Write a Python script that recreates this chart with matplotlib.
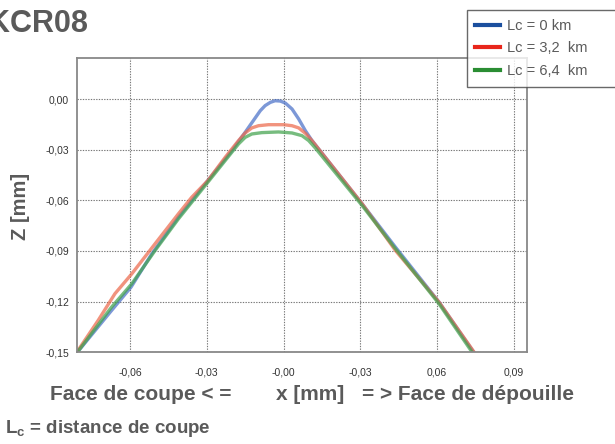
import matplotlib
matplotlib.use("Agg")
import matplotlib.pyplot as plt
from matplotlib.lines import Line2D

plt.rcParams['font.family'] = ['Liberation Sans', 'DejaVu Sans']
plt.rcParams['mathtext.fontset'] = 'custom'
plt.rcParams['mathtext.rm'] = 'Liberation Sans:bold'
plt.rcParams['mathtext.bf'] = 'Liberation Sans:bold'

title = "KCR08"
series_labels = ["Lc = 0 km", "Lc = 3,2  km", "Lc = 6,4  km"]

x_blue = [-0.0806, -0.0672, -0.0596, -0.0515, -0.0411, -0.0296, -0.0202, -0.0150, -0.0091,
          -0.0072, -0.0052, -0.0033, -0.0013, 0.0007, 0.0033, 0.0059, 0.0085, 0.0111,
          0.0307, 0.0437, 0.0607, 0.0743]
z_blue = [-0.1500, -0.1252, -0.1114, -0.0917, -0.0700, -0.0483, -0.0306, -0.0197, -0.0069,
          -0.0039, -0.0020, -0.0010, -0.0012, -0.0024, -0.0059, -0.0118, -0.0187, -0.0246,
          -0.0621, -0.0877, -0.1202, -0.1500]

x_red = [-0.0806, -0.0724, -0.0659, -0.0593, -0.0502, -0.0411, -0.0359, -0.0296, -0.0228,
         -0.0176, -0.0150, -0.0124, -0.0098, -0.0059, 0.0000, 0.0033, 0.0059, 0.0085, 0.0111,
         0.0307, 0.0437, 0.0607, 0.0745]
z_red = [-0.1495, -0.1310, -0.1153, -0.1035, -0.0857, -0.0680, -0.0582, -0.0483, -0.0345,
         -0.0246, -0.0201, -0.0171, -0.0158, -0.0152, -0.0152, -0.0158, -0.0171, -0.0203, -0.0246,
         -0.0620, -0.0897, -0.1202, -0.1500]

x_green = [-0.0806, -0.0672, -0.0593, -0.0502, -0.0411, -0.0296, -0.0202, -0.0176, -0.0150,
           -0.0124, -0.0085, -0.0020, 0.0033, 0.0072, 0.0098, 0.0124, 0.0307, 0.0437, 0.0607, 0.0737]
z_green = [-0.1500, -0.1232, -0.1094, -0.0897, -0.0710, -0.0493, -0.0315, -0.0266, -0.0227,
           -0.0207, -0.0199, -0.0195, -0.0201, -0.0217, -0.0246, -0.0290, -0.0631, -0.0887, -0.1212, -0.1500]

x_ticks = [-0.06, -0.03, 0.0, 0.03, 0.06, 0.09]
x_ticklabels = ["-0,06", "-0,03", "-0,00", "-0,03", "0,06", "0,09"]
y_ticks = [0.0, -0.03, -0.06, -0.09, -0.12, -0.15]
y_ticklabels = ["0,00", "-0,03", "-0,06", "-0,09", "-0,12", "-0,15"]

W, H = 615, 444
fig = plt.figure(figsize=(W / 100, H / 100), dpi=100)
ax = fig.add_axes([77.3 / W, 1 - 352.3 / H, (526.7 - 77.3) / W, (352.3 - 58) / H])

line_colors = ["#4a70c8", "#ec6a4c", "#43a34e"]
legend_colors = ["#1b4f9e", "#e8261b", "#2a8d33"]
for xs, zs, c in [(x_blue, z_blue, line_colors[0]),
                  (x_red, z_red, line_colors[1]),
                  (x_green, z_green, line_colors[2])]:
    ax.plot(xs, zs, color=c, lw=2.4, alpha=0.72, solid_capstyle='round',
            solid_joinstyle='round')

ax.set_xlim(-0.0806, 0.0950)
ax.set_ylim(-0.15, 0.0243)
ax.set_xticks(x_ticks)
ax.set_xticklabels(x_ticklabels)
ax.set_yticks(y_ticks)
ax.set_yticklabels(y_ticklabels)
ax.tick_params(length=0, labelsize=7.5, colors="#333333")
ax.tick_params(axis='x', pad=11)
ax.tick_params(axis='y', pad=6)
ax.grid(True, color="#777777", linestyle=(0, (1.2, 1.2)), linewidth=0.8)
for s in ax.spines.values():
    s.set_color("#888888")
    s.set_linewidth(1.3)

gray = "#5a5a5a"
fig.text(-12 / W, 1 - 32 / H, title, fontsize=22, fontweight='bold', color=gray, va='baseline', ha='left')
fig.text(20 / W, 1 - 206 / H, "Z [mm]", fontsize=14.5, fontweight='bold', color=gray,
         rotation=90, ha='center', va='center')
fig.text(50 / W, 1 - 400 / H, "Face de coupe < =", fontsize=15, fontweight='bold', color=gray,
         ha='left', va='baseline')
fig.text(276 / W, 1 - 400 / H, "x [mm]", fontsize=15, fontweight='bold', color=gray,
         ha='left', va='baseline')
fig.text(362 / W, 1 - 400 / H, "= > Face de dépouille", fontsize=15, fontweight='bold', color=gray,
         ha='left', va='baseline')
fig.text(5 / W, 1 - 433 / H, r"$\mathbf{L_c}$ = distance de coupe", fontsize=13.5, fontweight='bold',
         color=gray, ha='left', va='baseline')

handles = [Line2D([], [], color=c, lw=3) for c in legend_colors]
leg = fig.legend(handles, series_labels, loc='upper left', mode='expand',
                 bbox_to_anchor=(466.7 / W, 1 - 85 / H, (616 - 466.7) / W, 75 / H),
                 bbox_transform=fig.transFigure,
                 borderaxespad=0, fontsize=10.5, frameon=True, fancybox=False,
                 handlelength=1.7, handletextpad=0.45, labelspacing=0.6, borderpad=0.6)
leg.get_frame().set_edgecolor("#444444")
leg.get_frame().set_linewidth(1.0)
for t in leg.get_texts():
    t.set_color(gray)

fig.savefig("out.png", dpi=100)
